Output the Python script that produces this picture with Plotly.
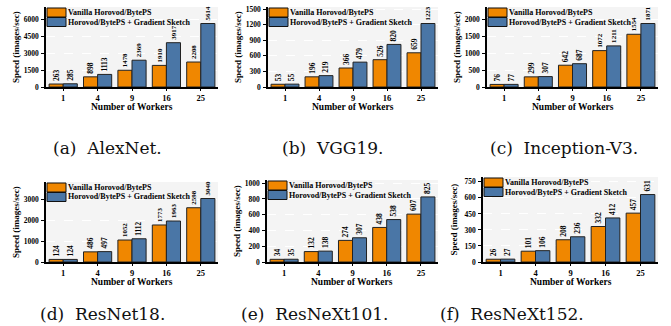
import plotly.graph_objects as go

workers = ["1", "4", "9", "16", "25"]
models = ["AlexNet", "VGG19", "Inception-V3", "ResNet18", "ResNeXt101", "ResNeXt152"]
captions = ["(a)  AlexNet.", "(b)  VGG19.", "(c)  Inception-V3.",
            "(d)  ResNet18.", "(e)  ResNeXt101.", "(f)  ResNeXt152."]
vanilla_alexnet = [263, 898, 1478, 1910, 2208]
sketch_alexnet = [285, 1113, 2369, 3917, 5614]
vanilla_vgg19 = [53, 196, 366, 526, 659]
sketch_vgg19 = [55, 219, 479, 820, 1223]
vanilla_inception = [76, 299, 642, 1072, 1554]
sketch_inception = [77, 307, 687, 1211, 1871]
vanilla_resnet18 = [124, 486, 1052, 1773, 2598]
sketch_resnet18 = [124, 497, 1112, 1963, 3040]
vanilla_resnext101 = [34, 132, 274, 438, 607]
sketch_resnext101 = [35, 138, 307, 538, 825]
vanilla_resnext152 = [26, 101, 208, 332, 457]
sketch_resnext152 = [27, 106, 236, 412, 631]
series_names = ["Vanilla Horovod/BytePS", "Horovod/BytePS + Gradient Sketch"]

vanilla = [vanilla_alexnet, vanilla_vgg19, vanilla_inception,
           vanilla_resnet18, vanilla_resnext101, vanilla_resnext152]
sketch = [sketch_alexnet, sketch_vgg19, sketch_inception,
          sketch_resnet18, sketch_resnext101, sketch_resnext152]
dticks = [1500, 300, 500, 1000, 200, 150]

W, H = 671, 326
# pixel boxes (left, right, top, bottom)
boxes = [(46, 218, 7, 87), (268, 438, 7, 87), (487, 658, 7, 87),
         (46, 218, 182, 262), (267, 438, 180, 262), (483, 658, 177, 262)]
cap_pos = [(107, 148), (332, 148), (564, 148), (102, 314), (314, 314), (512, 314)]

ORANGE = "#f08700"
BLUE = "#4a76a6"
SERIF = "Liberation Serif"

fig = go.Figure()
layout = dict(
    width=W, height=H, margin=dict(l=0, r=0, t=0, b=0),
    paper_bgcolor="white", plot_bgcolor="#f4f4f4",
    barmode="group", bargap=0.18, bargroupgap=0, showlegend=False,
    font=dict(family=SERIF, color="black"),
)
annotations = []
shapes = []
for i in range(6):
    n = i + 1
    xa = "x" if n == 1 else f"x{n}"
    ya = "y" if n == 1 else f"y{n}"
    colors = [ORANGE, BLUE]
    for vals, name, col in [(vanilla[i], series_names[0], ORANGE),
                            (sketch[i], series_names[1], BLUE)]:
        fig.add_trace(go.Bar(
            x=workers, y=vals, name=name, xaxis=xa, yaxis=ya,
            marker=dict(color=col, line=dict(color="#222222", width=1)),
            text=[str(v) for v in vals], textposition="outside", textangle=-90,
            textfont=dict(family=SERIF, size=7.5, color="black", weight="bold"),
            cliponaxis=False,
        ))
    l, r, t, b = boxes[i]
    ymax = max(sketch[i] + vanilla[i]) * 1.26
    layout["xaxis" if n == 1 else f"xaxis{n}"] = dict(
        domain=[l / W, r / W], anchor=ya, type="category",
        showline=True, linecolor="black", linewidth=1.5,
        ticks="outside", ticklen=2, tickcolor="black",
        tickfont=dict(family=SERIF, size=8.5, weight="bold"),
        showgrid=False, automargin=False,
    )
    layout["yaxis" if n == 1 else f"yaxis{n}"] = dict(
        domain=[1 - b / H, 1 - t / H], anchor=xa, range=[0, ymax],
        dtick=dticks[i], tick0=0,
        showline=True, linecolor="black", linewidth=1.5,
        ticks="outside", ticklen=3, tickcolor="black", ticklabelstandoff=1,
        tickfont=dict(family=SERIF, size=7.5, weight="bold"),
        showgrid=True, gridcolor="white", griddash="dash", gridwidth=1,
        zeroline=False, automargin=False,
    )
    # axis titles
    annotations.append(dict(
        text="Speed (images/sec)", x=(l - 30) / W, y=1 - ((t + b) / 2) / H,
        xref="paper", yref="paper", showarrow=False, textangle=-90, borderpad=0,
        xanchor="center", yanchor="middle",
        font=dict(family=SERIF, size=9, weight="bold", color="black"),
    ))
    annotations.append(dict(
        text="Number of Workers", x=((l + r) / 2) / W, y=1 - (b + 14) / H,
        xref="paper", yref="paper", showarrow=False, borderpad=0,
        xanchor="center", yanchor="top",
        font=dict(family=SERIF, size=9.5, weight="bold", color="black"),
    ))
    # legend
    for k in range(2):
        y0 = t + 1 + 9.5 * k
        shapes.append(dict(type="rect", xref="paper", yref="paper",
                           x0=(l + 1) / W, x1=(l + 20) / W,
                           y0=1 - (y0 + 9) / H, y1=1 - y0 / H,
                           fillcolor=colors[k],
                           line=dict(color="#111111", width=1)))
        annotations.append(dict(
            text=series_names[k], x=(l + 21) / W, y=1 - (y0 + 4.5) / H,
            xref="paper", yref="paper", showarrow=False, borderpad=0,
            xanchor="left", yanchor="middle",
            font=dict(family=SERIF, size=8, weight="bold", color="black"),
        ))
    cx, cy = cap_pos[i]
    annotations.append(dict(
        text=captions[i], x=cx / W, y=1 - cy / H, xref="paper", yref="paper",
        showarrow=False, xanchor="center", yanchor="middle",
        font=dict(family="DejaVu Serif", size=17, color="#111111"),
    ))

layout["annotations"] = annotations
layout["shapes"] = shapes
fig.update_layout(**layout)
fig.write_html("out.html", config={"displayModeBar": False},
               post_script="document.body.style.margin='0px';")
